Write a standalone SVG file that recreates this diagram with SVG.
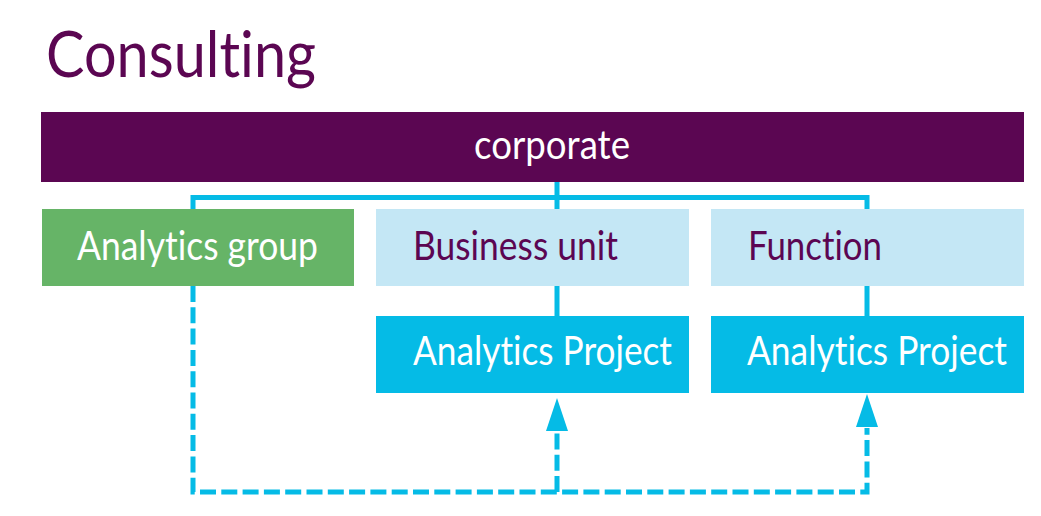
<svg xmlns="http://www.w3.org/2000/svg" width="1041" height="516" viewBox="0 0 1041 516">
<style>
text{font-variant-ligatures:none;font-feature-settings:"liga" 0,"clig" 0}
.t{font-family:Lato,"Open Sans","Liberation Sans",sans-serif;font-size:40px}
.w{fill:#ffffff}
.p{fill:#5b0652}
.ln{fill:none;stroke:#05bbe6;stroke-width:5}
.dash{stroke-dasharray:16 5.3}
.ah{fill:#05bbe6}
</style>
<rect width="1041" height="516" fill="#ffffff"/>
<g id="title">
<text x="46" y="77" class="p" style="font-family:Lato,'Open Sans','Liberation Sans',sans-serif;font-size:63px" textLength="270" lengthAdjust="spacingAndGlyphs">Consulting</text>
</g>
<g id="connectors">
<path class="ln" d="M193,212 V197.5 H867 V316"/>
<path class="ln" d="M557,181 V316"/>
<path class="ln dash" d="M193,286 V492 H867 V428"/>
<path class="ln dash" d="M557,492 V431"/>
<polygon class="ah" points="557,398 546,431 568,431"/>
<polygon class="ah" points="867,394 856,427 878,427"/>
</g>
<g id="corporate">
<rect x="41" y="112" width="983" height="70" fill="#5b0652"/>
<text x="474" y="159" class="t w" textLength="156" lengthAdjust="spacingAndGlyphs">corporate</text>
</g>
<g id="analytics-group">
<rect x="42" y="209" width="312" height="77" fill="#66b467"/>
<text x="77" y="260" class="t w" textLength="241" lengthAdjust="spacingAndGlyphs">Analytics group</text>
</g>
<g id="business-unit">
<rect x="376" y="209" width="313" height="77" fill="#c4e7f5"/>
<text x="413" y="260" class="t p" textLength="205" lengthAdjust="spacingAndGlyphs">Business unit</text>
</g>
<g id="function">
<rect x="711" y="209" width="313" height="77" fill="#c4e7f5"/>
<text x="748" y="260" class="t p" textLength="134" lengthAdjust="spacingAndGlyphs">Function</text>
</g>
<g id="project-1">
<rect x="376" y="316" width="313" height="77" fill="#05bbe6"/>
<text x="413" y="365" class="t w" textLength="259" lengthAdjust="spacingAndGlyphs">Analytics Project</text>
</g>
<g id="project-2">
<rect x="711" y="316" width="313" height="77" fill="#05bbe6"/>
<text x="747" y="365" class="t w" textLength="260" lengthAdjust="spacingAndGlyphs">Analytics Project</text>
</g>
</svg>
